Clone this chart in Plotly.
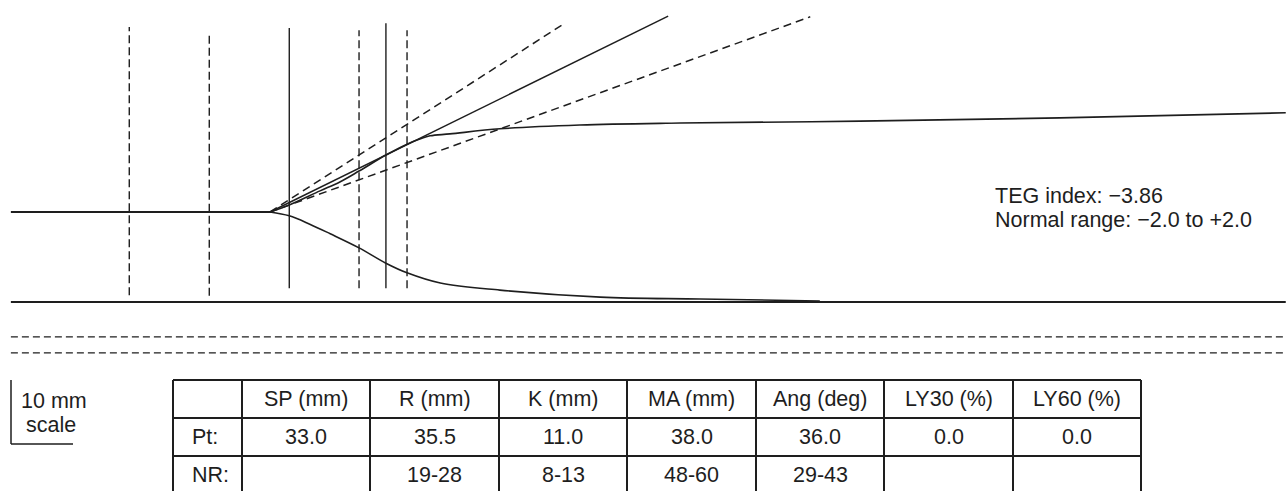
import plotly.graph_objects as go

W, H = 1286, 491
PX_PER_MM = 6.4          # 10 mm scale bar is 64 px tall
BASE_PX = 212            # pixel row of the zero-amplitude baseline
INK = "#1e1e1e"
FONT = "Liberation Sans, Arial, Helvetica, sans-serif"
FS = 21.5

# ---------------- data (chart mm: x = time along paper, y = amplitude) ----------------
baseline_x = [1.7, 42.2]
baseline_amp = [0.0, 0.0]

upper_x = [42.2, 45.2, 50.0, 53.1, 56.1, 60.3, 63.6, 65.6, 67.2, 70.3, 78.1, 90.6, 106.3, 134.4, 165.6, 200.9]
upper_amp = [0.0, 1.1, 3.3, 4.7, 6.4, 8.9, 10.6, 11.4, 11.9, 12.2, 13.0, 13.6, 13.9, 14.2, 14.7, 15.5]

lower_x = [42.2, 45.2, 48.4, 51.6, 56.1, 60.3, 63.6, 68.8, 78.1, 93.8, 109.4, 128.1]
lower_amp = [0.0, -0.6, -1.9, -3.4, -5.6, -8.0, -9.5, -11.1, -12.2, -13.3, -13.6, -13.9]

# angle (alpha) tangent lines from the R point
angle_pt_x, angle_pt_amp = [42.2, 104.4], [0.0, 30.6]
angle_max_x, angle_max_amp = [42.2, 87.8], [0.0, 29.2]
angle_min_x, angle_min_amp = [42.2, 126.6], [0.0, 30.5]

# vertical time markers (normal-range limits dashed, patient values solid)
marker_x = [20.2, 32.7, 45.2, 56.1, 60.3, 63.6]
marker_top = [28.9, 28.0, 28.75, 28.4, 29.5, 28.4]
marker_bottom = [-13.0, -13.1, -11.9, -11.9, -11.9, -11.9]
marker_kind = ["range", "range", "patient", "range", "patient", "range"]

# horizontal reference lines
ref_x = [1.7, 200.9]
ref_solid_amp = -14.06
ref_dashed_amp = [-19.5, -22.0]

# results table
table_header = ["", "SP (mm)", "R (mm)", "K (mm)", "MA (mm)", "Ang (deg)", "LY30 (%)", "LY60 (%)"]
row_labels = ["Pt:", "NR:"]
pt_values = ["33.0", "35.5", "11.0", "38.0", "36.0", "0.0", "0.0"]
nr_values = ["", "19-28", "8-13", "48-60", "29-43", "", ""]

teg_index_text = "TEG index: \u22123.86"
normal_range_text = "Normal range: \u22122.0 to +2.0"

# ---------------- figure ----------------
fig = go.Figure()

def line(x, y, dash="solid", width=1.6, shape="linear"):
    fig.add_trace(go.Scatter(x=x, y=y, mode="lines", hoverinfo="skip", showlegend=False,
                             line=dict(color=INK, width=width, dash=dash, shape=shape)))

line(baseline_x, baseline_amp, width=1.8)
line(upper_x, upper_amp, shape="spline")
line(lower_x, lower_amp, shape="spline")
line(angle_pt_x, angle_pt_amp, width=1.5)
line(angle_max_x, angle_max_amp, dash="8px,5px", width=1.5)
line(angle_min_x, angle_min_amp, dash="8px,5px", width=1.5)

for mx, mt, mb, kind in zip(marker_x, marker_top, marker_bottom, marker_kind):
    line([mx, mx], [mb, mt], dash="8px,4px" if kind == "range" else "solid", width=1.4)

line(ref_x, [ref_solid_amp] * 2, width=1.8)
for a in ref_dashed_amp:
    line(ref_x, [a, a], dash="7px,4px", width=1.3)

# ---------------- layout helpers (pixel -> paper) ----------------
def px(x):
    return x / W

def py(y):
    return 1 - y / H

shapes = []
annotations = []

def seg(x0, y0, x1, y1, width=2):
    shapes.append(dict(type="line", xref="paper", yref="paper",
                       x0=px(x0), y0=py(y0), x1=px(x1), y1=py(y1),
                       line=dict(color=INK, width=width)))

def text(s, x, y, xanchor="center", size=FS):
    annotations.append(dict(text=s, xref="paper", yref="paper", x=px(x), y=py(y),
                            xanchor=xanchor, yanchor="middle", showarrow=False,
                            font=dict(family=FONT, size=size, color=INK)))

# table grid
col_edges = [173, 242, 370, 499, 627, 756, 884, 1013, 1141]
row_edges = [380, 418, 456, 494]
for yy in row_edges[:-1]:
    seg(col_edges[0], yy, col_edges[-1], yy)
for xx in col_edges:
    seg(xx, row_edges[0], xx, H + 5)

row_centers = [(row_edges[i] + row_edges[i + 1]) / 2 for i in range(3)]
col_centers = [(col_edges[i] + col_edges[i + 1]) / 2 for i in range(len(col_edges) - 1)]
for i, h in enumerate(table_header):
    if h:
        text(h, col_centers[i], row_centers[0])
for j, lab in enumerate(row_labels):
    text(lab, 190, row_centers[j + 1], xanchor="left")
for i, v in enumerate(pt_values):
    if v:
        text(v, col_centers[i + 1], row_centers[1])
for i, v in enumerate(nr_values):
    if v:
        text(v, col_centers[i + 1], row_centers[2])

# 10 mm scale bar
seg(11, 380, 11, 444, width=1.5)
seg(11, 444, 73, 444, width=1.5)
text("10 mm", 19, 401, xanchor="left")
text("scale", 51, 425)

# TEG index note
text(teg_index_text, 993, 196, xanchor="left")
text(normal_range_text, 993, 220, xanchor="left")

fig.update_layout(
    width=W, height=H,
    margin=dict(l=0, r=0, t=0, b=0),
    paper_bgcolor="white", plot_bgcolor="white",
    xaxis=dict(range=[0, W / PX_PER_MM], visible=False, fixedrange=True),
    yaxis=dict(range=[(BASE_PX - H) / PX_PER_MM, BASE_PX / PX_PER_MM], visible=False, fixedrange=True),
    shapes=shapes, annotations=annotations,
    showlegend=False,
)

fig.write_html("out.html", config={"displayModeBar": False},
               post_script="document.body.style.margin='0px';document.body.style.overflow='hidden';")
